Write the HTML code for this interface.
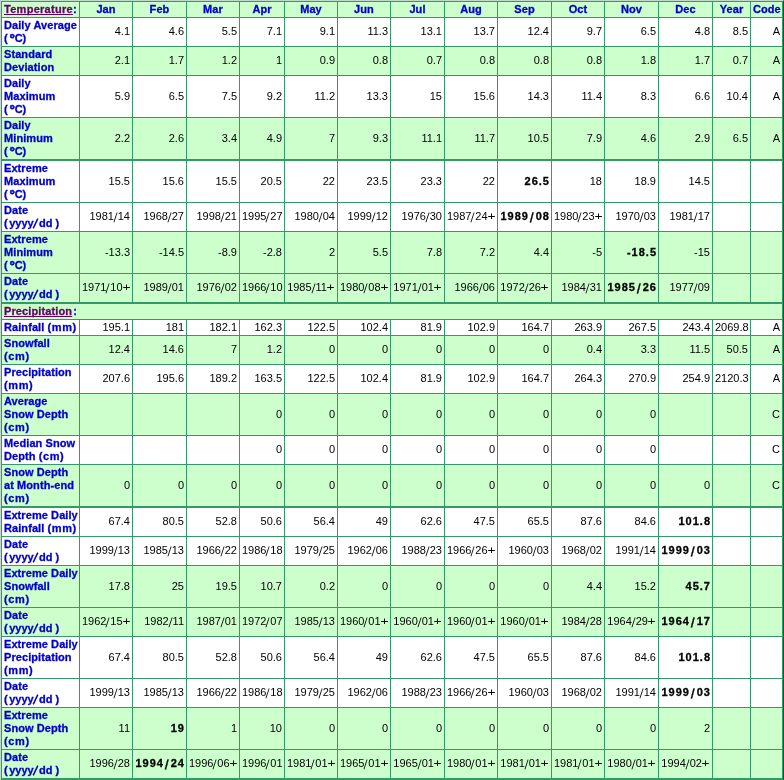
<!DOCTYPE html>
<html><head><meta charset="utf-8"><style>
html,body{margin:0;padding:0;background:#fff;}
body{width:784px;height:780px;overflow:hidden;}
#w{position:absolute;will-change:transform;left:0;top:0;width:782px;height:779px;border-style:solid;border-width:1px 1px 0 1px;border-color:#bddccd #1b4f37 #1b4f37 #bddccd;}
table{border-collapse:separate;border-spacing:0;table-layout:fixed;width:782px;border-left:1px solid #339966;border-top:1px solid #339966;font-family:"Liberation Sans",sans-serif;font-size:11px;line-height:13px;color:#000;}
td,th{border-right:1px solid #339966;border-bottom:1px solid #339966;padding:0 2px 0 2px;vertical-align:middle;white-space:nowrap;overflow:hidden;}
td{text-align:right;}
.l2 td{padding-bottom:2px;}
.g td,.g th{background:#ccffcc;}
.w td,.w th{background:#fff;}
th{font-weight:bold;color:#0000cc;-webkit-text-stroke:.3px #0000cc;letter-spacing:.08px;}
th.l{text-align:left;}
th.c{text-align:center;}
.s td,.s th{border-bottom-width:2px;}
a{color:#660066;-webkit-text-stroke-color:#660066;text-decoration:underline;text-decoration-skip-ink:none;}
a.t{letter-spacing:.28px;}
a.p{letter-spacing:.12px;margin-right:1px;}
td b{letter-spacing:1px;margin-right:-1px;-webkit-text-stroke:.3px #000;}
td i{font-style:normal;display:inline-block;transform:translateY(.8px) scaleY(1.2) skewX(-7deg);transform-origin:50% 2.3px;padding:0 .4px;}
td i.pl{padding-left:1.3px;transform:scaleX(1.25);transform-origin:100% 50%;}
td b .sl{padding:0 1px 0 1.8px;}
.c1{letter-spacing:2.6px}.c2{letter-spacing:0;display:inline-block;transform:scale(1.25);transform-origin:50% 30%;-webkit-text-stroke-width:.45px}.c3{letter-spacing:-.2px}
.y1{letter-spacing:1.5px}.y2{letter-spacing:0}.y3{letter-spacing:-1.5px}.y4{vertical-align:-2.4px;margin:0 -.3px 0 .2px}.y5{letter-spacing:-.1px}.y6{letter-spacing:3.1px}
.pm{letter-spacing:.6px}
</style></head><body><div id="w"><table>
<colgroup>
<col style="width:78px">
<col style="width:53px">
<col style="width:54px">
<col style="width:53px">
<col style="width:45px">
<col style="width:53px">
<col style="width:53px">
<col style="width:54px">
<col style="width:53px">
<col style="width:54px">
<col style="width:53px">
<col style="width:54px">
<col style="width:54px">
<col style="width:38px">
<col style="width:32px">
</colgroup>
<tr class="g" style="height:16px">
<th class="l"><a class="t">Temperature</a>:</th>
<th class="c">Jan</th>
<th class="c">Feb</th>
<th class="c">Mar</th>
<th class="c">Apr</th>
<th class="c">May</th>
<th class="c">Jun</th>
<th class="c">Jul</th>
<th class="c">Aug</th>
<th class="c">Sep</th>
<th class="c">Oct</th>
<th class="c">Nov</th>
<th class="c">Dec</th>
<th class="c">Year</th>
<th class="c">Code</th>
</tr>
<tr class="w l2" style="height:29px">
<th class="l">Daily Average<br><span class="c1">(</span><span class="c2">°</span><span class="c3">C</span>)</th>
<td>4.1</td>
<td>4.6</td>
<td>5.5</td>
<td>7.1</td>
<td>9.1</td>
<td>11.3</td>
<td>13.1</td>
<td>13.7</td>
<td>12.4</td>
<td>9.7</td>
<td>6.5</td>
<td>4.8</td>
<td>8.5</td><td>A</td>
</tr>
<tr class="g l2" style="height:29px">
<th class="l">Standard<br>Deviation</th>
<td>2.1</td>
<td>1.7</td>
<td>1.2</td>
<td>1</td>
<td>0.9</td>
<td>0.8</td>
<td>0.7</td>
<td>0.8</td>
<td>0.8</td>
<td>0.8</td>
<td>1.8</td>
<td>1.7</td>
<td>0.7</td><td>A</td>
</tr>
<tr class="w" style="height:42px">
<th class="l">Daily<br>Maximum<br><span class="c1">(</span><span class="c2">°</span><span class="c3">C</span>)</th>
<td>5.9</td>
<td>6.5</td>
<td>7.5</td>
<td>9.2</td>
<td>11.2</td>
<td>13.3</td>
<td>15</td>
<td>15.6</td>
<td>14.3</td>
<td>11.4</td>
<td>8.3</td>
<td>6.6</td>
<td>10.4</td><td>A</td>
</tr>
<tr class="g s" style="height:43px">
<th class="l">Daily<br>Minimum<br><span class="c1">(</span><span class="c2">°</span><span class="c3">C</span>)</th>
<td>2.2</td>
<td>2.6</td>
<td>3.4</td>
<td>4.9</td>
<td>7</td>
<td>9.3</td>
<td>11.1</td>
<td>11.7</td>
<td>10.5</td>
<td>7.9</td>
<td>4.6</td>
<td>2.9</td>
<td>6.5</td><td>A</td>
</tr>
<tr class="w" style="height:42px">
<th class="l">Extreme<br>Maximum<br><span class="c1">(</span><span class="c2">°</span><span class="c3">C</span>)</th>
<td>15.5</td>
<td>15.6</td>
<td>15.5</td>
<td>20.5</td>
<td>22</td>
<td>23.5</td>
<td>23.3</td>
<td>22</td>
<td><b>26.5</b></td>
<td>18</td>
<td>18.9</td>
<td>14.5</td>
<td></td><td></td>
</tr>
<tr class="w l2" style="height:29px">
<th class="l">Date<br><span class="yd"><span class="y1">(</span><span class="y2">yyy</span><span class="y3">y</span><svg class="y4" width="7" height="11" viewBox="0 0 7 11"><line x1="1.2" y1="10.4" x2="5.8" y2="0.6" stroke="#0000cc" stroke-width="1.45"/></svg><span class="y5">d</span><span class="y6">d</span>)</span></th>
<td>1981<i>/</i>14</td>
<td>1968<i>/</i>27</td>
<td>1998<i>/</i>21</td>
<td>1995<i>/</i>27</td>
<td>1980<i>/</i>04</td>
<td>1999<i>/</i>12</td>
<td>1976<i>/</i>30</td>
<td>1987<i>/</i>24<i class="pl">+</i></td>
<td><b>1989<i class="sl">/</i>08</b></td>
<td>1980<i>/</i>23<i class="pl">+</i></td>
<td>1970<i>/</i>03</td>
<td>1981<i>/</i>17</td>
<td></td><td></td>
</tr>
<tr class="g" style="height:42px">
<th class="l">Extreme<br>Minimum<br><span class="c1">(</span><span class="c2">°</span><span class="c3">C</span>)</th>
<td>-13.3</td>
<td>-14.5</td>
<td>-8.9</td>
<td>-2.8</td>
<td>2</td>
<td>5.5</td>
<td>7.8</td>
<td>7.2</td>
<td>4.4</td>
<td>-5</td>
<td><b>-18.5</b></td>
<td>-15</td>
<td></td><td></td>
</tr>
<tr class="g s l2" style="height:30px">
<th class="l">Date<br><span class="yd"><span class="y1">(</span><span class="y2">yyy</span><span class="y3">y</span><svg class="y4" width="7" height="11" viewBox="0 0 7 11"><line x1="1.2" y1="10.4" x2="5.8" y2="0.6" stroke="#0000cc" stroke-width="1.45"/></svg><span class="y5">d</span><span class="y6">d</span>)</span></th>
<td>1971<i>/</i>10<i class="pl">+</i></td>
<td>1989<i>/</i>01</td>
<td>1976<i>/</i>02</td>
<td>1966<i>/</i>10</td>
<td>1985<i>/</i>11<i class="pl">+</i></td>
<td>1980<i>/</i>08<i class="pl">+</i></td>
<td>1971<i>/</i>01<i class="pl">+</i></td>
<td>1966<i>/</i>06</td>
<td>1972<i>/</i>26<i class="pl">+</i></td>
<td>1984<i>/</i>31</td>
<td><b>1985<i class="sl">/</i>26</b></td>
<td>1977<i>/</i>09</td>
<td></td><td></td>
</tr>
<tr class="g" style="height:16px"><th class="l" colspan="15"><a class="p">Precipitation</a>:</th></tr>
<tr class="w" style="height:16px">
<th class="l">Rainfall <span class="pm">(mm</span>)</th>
<td>195.1</td>
<td>181</td>
<td>182.1</td>
<td>162.3</td>
<td>122.5</td>
<td>102.4</td>
<td>81.9</td>
<td>102.9</td>
<td>164.7</td>
<td>263.9</td>
<td>267.5</td>
<td>243.4</td>
<td>2069.8</td><td>A</td>
</tr>
<tr class="g l2" style="height:29px">
<th class="l">Snowfall<br><span class="pm">(cm</span>)</th>
<td>12.4</td>
<td>14.6</td>
<td>7</td>
<td>1.2</td>
<td>0</td>
<td>0</td>
<td>0</td>
<td>0</td>
<td>0</td>
<td>0.4</td>
<td>3.3</td>
<td>11.5</td>
<td>50.5</td><td>A</td>
</tr>
<tr class="w l2" style="height:29px">
<th class="l">Precipitation<br><span class="pm">(mm</span>)</th>
<td>207.6</td>
<td>195.6</td>
<td>189.2</td>
<td>163.5</td>
<td>122.5</td>
<td>102.4</td>
<td>81.9</td>
<td>102.9</td>
<td>164.7</td>
<td>264.3</td>
<td>270.9</td>
<td>254.9</td>
<td>2120.3</td><td>A</td>
</tr>
<tr class="g" style="height:42px">
<th class="l">Average<br>Snow Depth<br><span class="pm">(cm</span>)</th>
<td></td>
<td></td>
<td></td>
<td>0</td>
<td>0</td>
<td>0</td>
<td>0</td>
<td>0</td>
<td>0</td>
<td>0</td>
<td>0</td>
<td></td>
<td></td><td>C</td>
</tr>
<tr class="w l2" style="height:29px">
<th class="l">Median Snow<br>Depth <span class="pm">(cm</span>)</th>
<td></td>
<td></td>
<td></td>
<td>0</td>
<td>0</td>
<td>0</td>
<td>0</td>
<td>0</td>
<td>0</td>
<td>0</td>
<td>0</td>
<td></td>
<td></td><td>C</td>
</tr>
<tr class="g s" style="height:43px">
<th class="l">Snow Depth<br>at Month-end<br><span class="pm">(cm</span>)</th>
<td>0</td>
<td>0</td>
<td>0</td>
<td>0</td>
<td>0</td>
<td>0</td>
<td>0</td>
<td>0</td>
<td>0</td>
<td>0</td>
<td>0</td>
<td>0</td>
<td></td><td>C</td>
</tr>
<tr class="w l2" style="height:29px">
<th class="l">Extreme Daily<br>Rainfall <span class="pm">(mm</span>)</th>
<td>67.4</td>
<td>80.5</td>
<td>52.8</td>
<td>50.6</td>
<td>56.4</td>
<td>49</td>
<td>62.6</td>
<td>47.5</td>
<td>65.5</td>
<td>87.6</td>
<td>84.6</td>
<td><b>101.8</b></td>
<td></td><td></td>
</tr>
<tr class="w l2" style="height:29px">
<th class="l">Date<br><span class="yd"><span class="y1">(</span><span class="y2">yyy</span><span class="y3">y</span><svg class="y4" width="7" height="11" viewBox="0 0 7 11"><line x1="1.2" y1="10.4" x2="5.8" y2="0.6" stroke="#0000cc" stroke-width="1.45"/></svg><span class="y5">d</span><span class="y6">d</span>)</span></th>
<td>1999<i>/</i>13</td>
<td>1985<i>/</i>13</td>
<td>1966<i>/</i>22</td>
<td>1986<i>/</i>18</td>
<td>1979<i>/</i>25</td>
<td>1962<i>/</i>06</td>
<td>1988<i>/</i>23</td>
<td>1966<i>/</i>26<i class="pl">+</i></td>
<td>1960<i>/</i>03</td>
<td>1968<i>/</i>02</td>
<td>1991<i>/</i>14</td>
<td><b>1999<i class="sl">/</i>03</b></td>
<td></td><td></td>
</tr>
<tr class="g" style="height:42px">
<th class="l">Extreme Daily<br>Snowfall<br><span class="pm">(cm</span>)</th>
<td>17.8</td>
<td>25</td>
<td>19.5</td>
<td>10.7</td>
<td>0.2</td>
<td>0</td>
<td>0</td>
<td>0</td>
<td>0</td>
<td>4.4</td>
<td>15.2</td>
<td><b>45.7</b></td>
<td></td><td></td>
</tr>
<tr class="g l2" style="height:29px">
<th class="l">Date<br><span class="yd"><span class="y1">(</span><span class="y2">yyy</span><span class="y3">y</span><svg class="y4" width="7" height="11" viewBox="0 0 7 11"><line x1="1.2" y1="10.4" x2="5.8" y2="0.6" stroke="#0000cc" stroke-width="1.45"/></svg><span class="y5">d</span><span class="y6">d</span>)</span></th>
<td>1962<i>/</i>15<i class="pl">+</i></td>
<td>1982<i>/</i>11</td>
<td>1987<i>/</i>01</td>
<td>1972<i>/</i>07</td>
<td>1985<i>/</i>13</td>
<td>1960<i>/</i>01<i class="pl">+</i></td>
<td>1960<i>/</i>01<i class="pl">+</i></td>
<td>1960<i>/</i>01<i class="pl">+</i></td>
<td>1960<i>/</i>01<i class="pl">+</i></td>
<td>1984<i>/</i>28</td>
<td>1964<i>/</i>29<i class="pl">+</i></td>
<td><b>1964<i class="sl">/</i>17</b></td>
<td></td><td></td>
</tr>
<tr class="w" style="height:42px">
<th class="l">Extreme Daily<br>Precipitation<br><span class="pm">(mm</span>)</th>
<td>67.4</td>
<td>80.5</td>
<td>52.8</td>
<td>50.6</td>
<td>56.4</td>
<td>49</td>
<td>62.6</td>
<td>47.5</td>
<td>65.5</td>
<td>87.6</td>
<td>84.6</td>
<td><b>101.8</b></td>
<td></td><td></td>
</tr>
<tr class="w l2" style="height:29px">
<th class="l">Date<br><span class="yd"><span class="y1">(</span><span class="y2">yyy</span><span class="y3">y</span><svg class="y4" width="7" height="11" viewBox="0 0 7 11"><line x1="1.2" y1="10.4" x2="5.8" y2="0.6" stroke="#0000cc" stroke-width="1.45"/></svg><span class="y5">d</span><span class="y6">d</span>)</span></th>
<td>1999<i>/</i>13</td>
<td>1985<i>/</i>13</td>
<td>1966<i>/</i>22</td>
<td>1986<i>/</i>18</td>
<td>1979<i>/</i>25</td>
<td>1962<i>/</i>06</td>
<td>1988<i>/</i>23</td>
<td>1966<i>/</i>26<i class="pl">+</i></td>
<td>1960<i>/</i>03</td>
<td>1968<i>/</i>02</td>
<td>1991<i>/</i>14</td>
<td><b>1999<i class="sl">/</i>03</b></td>
<td></td><td></td>
</tr>
<tr class="g" style="height:42px">
<th class="l">Extreme<br>Snow Depth<br><span class="pm">(cm</span>)</th>
<td>11</td>
<td><b>19</b></td>
<td>1</td>
<td>10</td>
<td>0</td>
<td>0</td>
<td>0</td>
<td>0</td>
<td>0</td>
<td>0</td>
<td>0</td>
<td>2</td>
<td></td><td></td>
</tr>
<tr class="g s l2" style="height:30px">
<th class="l">Date<br><span class="yd"><span class="y1">(</span><span class="y2">yyy</span><span class="y3">y</span><svg class="y4" width="7" height="11" viewBox="0 0 7 11"><line x1="1.2" y1="10.4" x2="5.8" y2="0.6" stroke="#0000cc" stroke-width="1.45"/></svg><span class="y5">d</span><span class="y6">d</span>)</span></th>
<td>1996<i>/</i>28</td>
<td><b>1994<i class="sl">/</i>24</b></td>
<td>1996<i>/</i>06<i class="pl">+</i></td>
<td>1996<i>/</i>01</td>
<td>1981<i>/</i>01<i class="pl">+</i></td>
<td>1965<i>/</i>01<i class="pl">+</i></td>
<td>1965<i>/</i>01<i class="pl">+</i></td>
<td>1980<i>/</i>01<i class="pl">+</i></td>
<td>1981<i>/</i>01<i class="pl">+</i></td>
<td>1981<i>/</i>01<i class="pl">+</i></td>
<td>1980<i>/</i>01<i class="pl">+</i></td>
<td>1994<i>/</i>02<i class="pl">+</i></td>
<td></td><td></td>
</tr>
</table></div></body></html>
